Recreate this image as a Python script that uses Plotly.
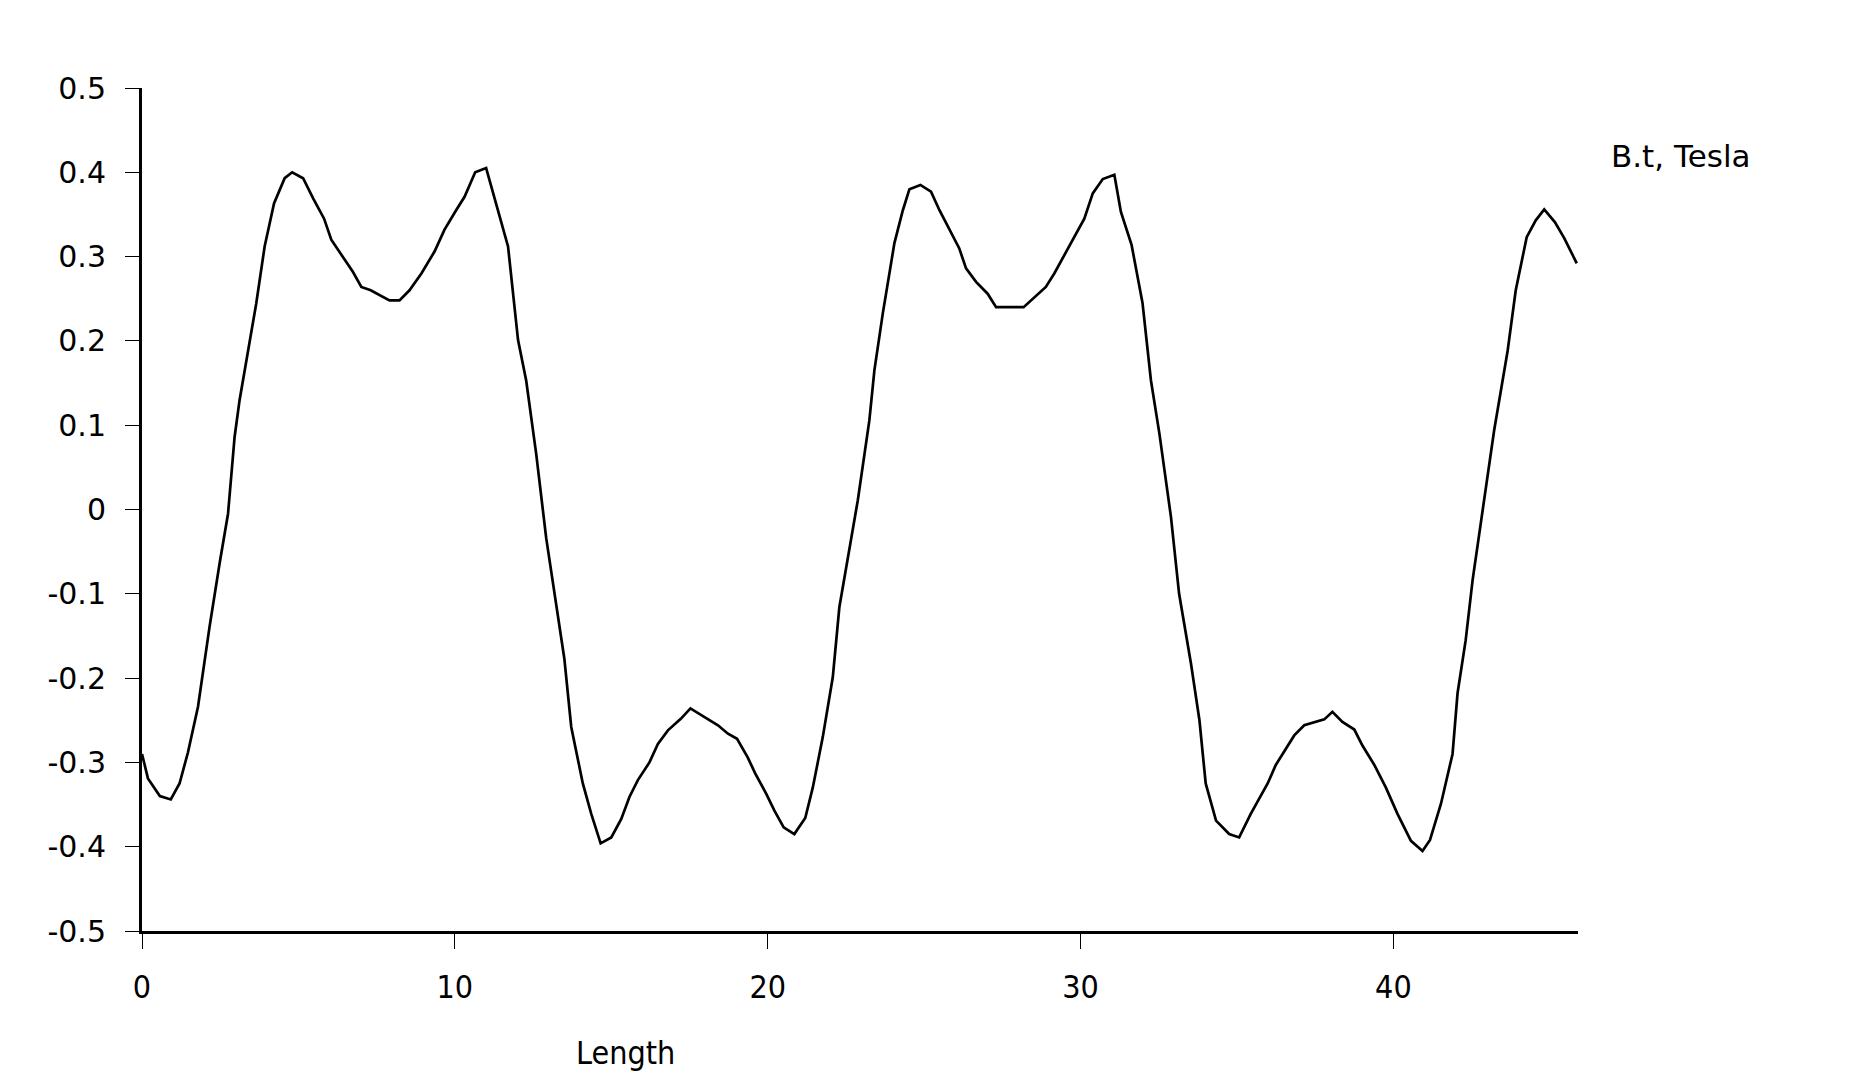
import plotly.graph_objects as go

# Data
length = [0.00, 0.19, 0.57, 0.92, 1.20, 1.47, 1.79, 2.16, 2.48, 2.75, 2.96, 3.12, 3.65, 3.92,
          4.22, 4.56, 4.80, 5.15, 5.47, 5.82, 6.05, 6.37, 6.74, 7.01, 7.31, 7.91, 8.23, 8.55,
          8.93, 9.35, 9.67, 10.04, 10.31, 10.65, 11.00, 11.70, 12.02, 12.28, 12.60, 12.92,
          13.19, 13.50, 13.72, 14.09, 14.36, 14.66, 15.00, 15.32, 15.58, 15.85, 16.22, 16.49,
          16.81, 17.23, 17.53, 17.87, 18.41, 18.73, 19.02, 19.36, 19.60, 19.95, 20.21, 20.51,
          20.85, 21.20, 21.44, 21.76, 22.08, 22.29, 22.61, 22.88, 23.25, 23.41, 23.68, 24.05,
          24.32, 24.53, 24.88, 25.22, 25.49, 25.81, 26.12, 26.34, 26.66, 27.03, 27.30, 28.18,
          28.52, 28.89, 29.16, 29.43, 29.75, 30.12, 30.39, 30.71, 31.08, 31.29, 31.63, 31.98,
          32.25, 32.52, 32.89, 33.15, 33.53, 33.80, 34.00, 34.33, 34.75, 35.07, 35.44, 35.98,
          36.24, 36.83, 37.15, 37.79, 38.05, 38.37, 38.75, 39.01, 39.39, 39.76, 40.13, 40.56,
          40.93, 41.17, 41.52, 41.89, 42.05, 42.31, 42.53, 42.74, 42.90, 43.22, 43.65, 43.91,
          44.26, 44.55, 44.82, 45.16, 45.46, 45.86]

b_tesla = [-0.290, -0.319, -0.340, -0.344, -0.325, -0.288, -0.234, -0.139, -0.064, -0.005,
           0.086, 0.130, 0.244, 0.312, 0.363, 0.393, 0.400, 0.393, 0.369, 0.345, 0.320, 0.302,
           0.282, 0.264, 0.260, 0.248, 0.248, 0.260, 0.280, 0.306, 0.332, 0.355, 0.371, 0.400,
           0.405, 0.312, 0.201, 0.153, 0.066, -0.034, -0.100, -0.177, -0.258, -0.325, -0.361,
           -0.396, -0.389, -0.367, -0.341, -0.321, -0.300, -0.278, -0.262, -0.248, -0.236,
           -0.244, -0.256, -0.266, -0.272, -0.294, -0.313, -0.337, -0.357, -0.377, -0.385,
           -0.366, -0.330, -0.270, -0.199, -0.116, -0.048, 0.011, 0.106, 0.165, 0.233, 0.316,
           0.355, 0.380, 0.385, 0.377, 0.355, 0.332, 0.310, 0.286, 0.270, 0.256, 0.240, 0.240,
           0.252, 0.264, 0.280, 0.298, 0.320, 0.345, 0.375, 0.392, 0.397, 0.353, 0.314, 0.245,
           0.153, 0.090, -0.009, -0.100, -0.183, -0.250, -0.325, -0.369, -0.385, -0.389,
           -0.361, -0.325, -0.303, -0.268, -0.256, -0.249, -0.240, -0.252, -0.261, -0.280,
           -0.303, -0.330, -0.361, -0.393, -0.405, -0.392, -0.349, -0.290, -0.218, -0.155,
           -0.084, -0.028, 0.013, 0.094, 0.188, 0.260, 0.323, 0.343, 0.356, 0.341, 0.322,
           0.292]

x_tick_vals = [0, 10, 20, 30, 40]
x_tick_text = ["0", "10", "20", "30", "40"]
y_tick_vals = [-0.5, -0.4, -0.3, -0.2, -0.1, 0, 0.1, 0.2, 0.3, 0.4, 0.5]
y_tick_text = ["-0.5", "-0.4", "-0.3", "-0.2", "-0.1", "0", "0.1", "0.2", "0.3", "0.4", "0.5"]

series_name = "B.t, Tesla"
x_title = "Length"

fig = go.Figure()
fig.add_trace(go.Scatter(
    x=length, y=b_tesla, mode="lines", name=series_name,
    line=dict(color="black", width=2.7), showlegend=False,
))

fig.update_layout(
    width=1851, height=1092, autosize=False,
    margin=dict(l=142, r=273, t=88, b=161),
    paper_bgcolor="white", plot_bgcolor="white",
    xaxis=dict(
        range=[0, 45.9], showgrid=False, zeroline=False,
        showline=True, linecolor="black", linewidth=3,
        ticks="outside", ticklen=15, tickwidth=1, tickcolor="black",
        tickvals=x_tick_vals, ticktext=x_tick_text,
        tickfont=dict(family="DejaVu Sans Condensed, DejaVu Sans", size=32, color="black"),
        ticklabelstandoff=11,
    ),
    yaxis=dict(
        range=[-0.5, 0.5], showgrid=False, zeroline=False,
        showline=True, linecolor="black", linewidth=3,
        ticks="outside", ticklen=14, tickwidth=1, tickcolor="black",
        tickvals=y_tick_vals, ticktext=y_tick_text,
        tickfont=dict(family="DejaVu Sans", size=30, color="black"),
        ticklabelstandoff=13,
    ),
    annotations=[
        dict(text=x_title, xref="paper", yref="paper", x=0.337, y=-0.145,
             xanchor="center", yanchor="middle", showarrow=False,
             font=dict(family="DejaVu Sans Condensed, DejaVu Sans", size=32, color="black")),
        dict(text=series_name, xref="paper", yref="paper", x=1.072, y=0.919,
             xanchor="center", yanchor="middle", showarrow=False,
             font=dict(family="DejaVu Sans", size=31, color="black")),
    ],
)

fig.write_html("out.html", config={"displayModeBar": False},
               post_script="document.body.style.margin='0';document.body.style.overflow='hidden';")
